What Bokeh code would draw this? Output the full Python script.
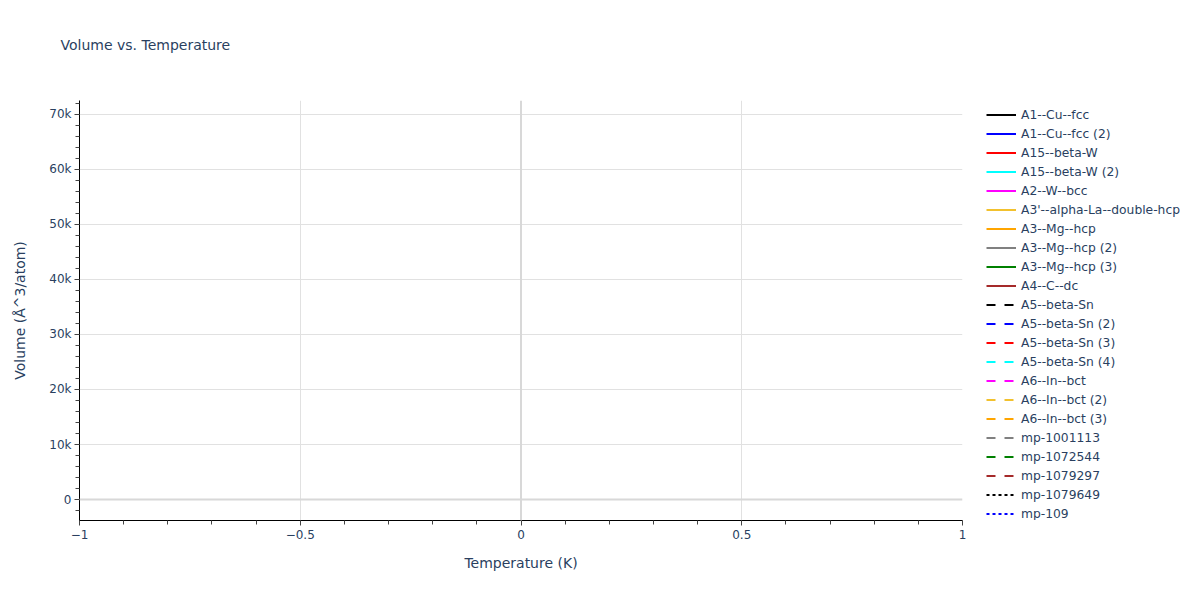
import math
from bokeh.plotting import figure
from bokeh.layouts import row
from bokeh.models import Range1d, FixedTicker, Span, Legend, LegendItem, Title
from bokeh.embed import file_html
from bokeh.resources import INLINE

# ---- data -------------------------------------------------------------
series_names = [
    "A1--Cu--fcc", "A1--Cu--fcc (2)", "A15--beta-W", "A15--beta-W (2)",
    "A2--W--bcc", "A3'--alpha-La--double-hcp", "A3--Mg--hcp", "A3--Mg--hcp (2)",
    "A3--Mg--hcp (3)", "A4--C--dc", "A5--beta-Sn", "A5--beta-Sn (2)",
    "A5--beta-Sn (3)", "A5--beta-Sn (4)", "A6--In--bct", "A6--In--bct (2)",
    "A6--In--bct (3)", "mp-1001113", "mp-1072544", "mp-1079297",
    "mp-1079649", "mp-109",
]
series_colors = [
    "#000000", "#0000ff", "#ff0000", "#00ffff", "#ff00ff", "#f2c12e",
    "#ffa500", "#808080", "#008000", "#a52a2a",
    "#000000", "#0000ff", "#ff0000", "#00ffff", "#ff00ff", "#f2c12e",
    "#ffa500", "#808080", "#008000", "#a52a2a",
    "#000000", "#0000ff",
]
series_dash = ["solid"] * 10 + ["dashed"] * 10 + ["dotted"] * 2
# The reference shows no plotted points for any series (missing values)
temperature = {name: [math.nan] for name in series_names}
volume = {name: [math.nan] for name in series_names}

x_ticks = [-1, -0.5, 0, 0.5, 1]
x_tick_labels = ["\u22121", "\u22120.5", "0", "0.5", "1"]
y_ticks = [0, 10000, 20000, 30000, 40000, 50000, 60000, 70000]
y_tick_labels = ["0", "10k", "20k", "30k", "40k", "50k", "60k", "70k"]

FONT = "DejaVu Sans"
TXT = "#2a3f5f"
dash_map = {"solid": "solid", "dashed": "9 9", "dotted": "3 3"}

# ---- main plot ----------------------------------------------------------
p = figure(width=970, height=600, output_backend="svg", toolbar_location=None,
           title=None,
           x_range=Range1d(-1, 1), y_range=Range1d(-3800, 72500),
           min_border_left=79, min_border_right=8, min_border_top=100,
           min_border_bottom=80, background_fill_color="white",
           border_fill_color="white")
p.outline_line_color = None

# spacer (closest to the frame) then the visible title
p.add_layout(Title(text=" ", text_font=FONT, text_font_size="14px", standoff=29), "above")
p.add_layout(Title(text="Volume vs. Temperature", text_font=FONT,
                   text_font_size="14px", text_font_style="normal",
                   text_color=TXT, align="left", vertical_align="middle",
                   offset=-19, standoff=0), "above")

for name, col, d in zip(series_names, series_colors, series_dash):
    p.line(x=temperature[name], y=volume[name], line_color=col,
           line_width=2, line_dash=dash_map[d])

ax = p.xaxis[0]
ax.ticker = FixedTicker(ticks=x_ticks, minor_ticks=[round(-1 + 0.1 * i, 1) for i in range(21)])
ax.major_label_overrides = {t: l for t, l in zip(x_ticks, x_tick_labels)}
ay = p.yaxis[0]
ay.ticker = FixedTicker(ticks=y_ticks, minor_ticks=list(range(-2000, 72001, 2000)))
ay.major_label_overrides = {t: l for t, l in zip(y_ticks, y_tick_labels)}

for a in (ax, ay):
    a.axis_line_color = "#000000"
    a.axis_line_width = 1
    a.major_tick_line_color = "#444444"
    a.minor_tick_line_color = "#444444"
    a.major_tick_in = 0
    a.major_tick_out = 5
    a.minor_tick_in = 0
    a.minor_tick_out = 4
    a.major_label_text_font = FONT
    a.major_label_text_font_size = "12px"
    a.major_label_text_color = TXT
    a.axis_label_text_font = FONT
    a.axis_label_text_font_size = "14px"
    a.axis_label_text_font_style = "normal"
    a.axis_label_text_color = TXT

ax.axis_label = "Temperature (K)"
ay.axis_label = "Volume (\u00c5^3/atom)"
ax.major_label_standoff = 4
ax.axis_label_standoff = 13
ay.major_label_standoff = 3
ay.axis_label_standoff = 18
ay.major_label_orientation = "horizontal"

p.xgrid.ticker = FixedTicker(ticks=[-0.5, 0.5])
p.ygrid.ticker = FixedTicker(ticks=y_ticks[1:])
for g in (p.xgrid[0], p.ygrid[0]):
    g.grid_line_color = "#e1e1e1"
    g.grid_line_width = 1
p.add_layout(Span(location=0, dimension="height", line_color="#d8d8d8", line_width=2))
p.add_layout(Span(location=0, dimension="width", line_color="#d8d8d8", line_width=2))

# ---- legend panel -------------------------------------------------------
pl = figure(width=230, height=600, output_backend="svg", toolbar_location=None,
            title=None, x_range=Range1d(0, 1), y_range=Range1d(0, 1),
            x_axis_type=None, y_axis_type=None,
            min_border=0, background_fill_color="white",
            border_fill_color="white")
pl.outline_line_color = None
pl.grid.visible = False

items = []
for name, col, d in zip(series_names, series_colors, series_dash):
    r = pl.line(x=temperature[name], y=volume[name], line_color=col,
                line_width=2, line_dash=dash_map[d])
    items.append(LegendItem(label=name, renderers=[r]))

legend = Legend(items=items, location=(16, -3), orientation="vertical",
                padding=0, margin=0, spacing=0, glyph_width=30, glyph_height=19,
                label_height=19, label_standoff=5,
                label_text_font=FONT, label_text_font_size="12.3px",
                label_text_color=TXT, border_line_color=None,
                background_fill_alpha=0)
pl.add_layout(legend, "center")

layout = row(p, pl, spacing=0)
open("out.html", "w").write(file_html(layout, INLINE))
